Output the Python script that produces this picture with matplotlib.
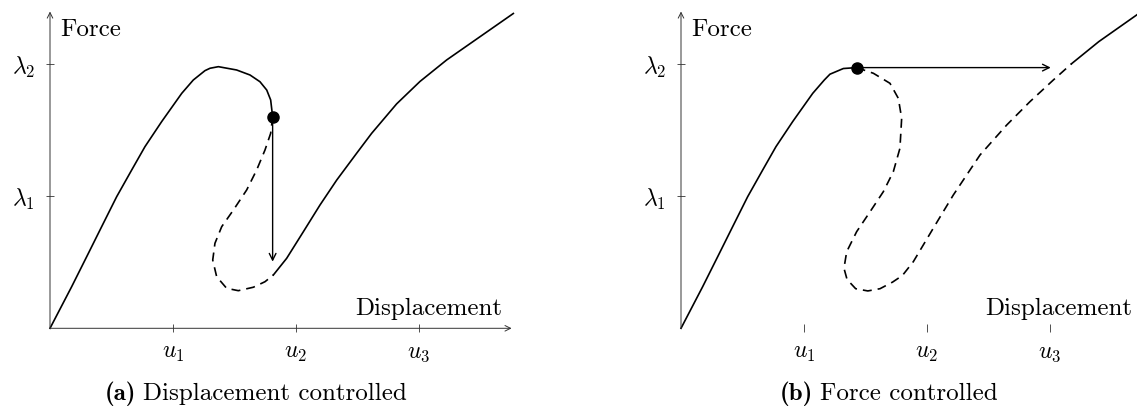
import matplotlib
matplotlib.use("Agg")
import matplotlib.pyplot as plt

plt.rcParams['mathtext.fontset'] = 'cm'

# x in units of u (u1=1, u2=2, u3=3), y in units of lambda (lambda1=1, lambda2=2)
xticks = [1, 2, 3]
xlabels = [r'$u_1$', r'$u_2$', r'$u_3$']
yticks = [1, 2]
ylabels = [r'$\lambda_1$', r'$\lambda_2$']

# (a) displacement controlled
a_up_x = [0, 0.176, 0.312, 0.420, 0.542, 0.664, 0.772, 0.908, 1.071, 1.165, 1.260, 1.301,
          1.369, 1.517, 1.626, 1.707, 1.762, 1.794, 1.810]
a_up_y = [0, 0.315, 0.568, 0.770, 0.997, 1.199, 1.376, 1.566, 1.780, 1.881, 1.952, 1.970,
          1.982, 1.957, 1.919, 1.868, 1.805, 1.730, 1.603]
a_dash_x = [1.810, 1.794, 1.748, 1.680, 1.599, 1.491, 1.396, 1.341, 1.323, 1.355, 1.436,
            1.531, 1.653, 1.748, 1.816]
a_dash_y = [1.603, 1.477, 1.351, 1.199, 1.048, 0.896, 0.770, 0.644, 0.517, 0.391, 0.303,
            0.285, 0.311, 0.353, 0.404]
a_low_x = [1.816, 1.924, 2.060, 2.195, 2.331, 2.493, 2.615, 2.818, 3.008, 3.225, 3.496, 3.767]
a_low_y = [0.404, 0.530, 0.732, 0.934, 1.123, 1.326, 1.477, 1.700, 1.870, 2.033, 2.209, 2.385]
a_point = (1.810, 1.603)
a_jump_end = (1.810, 0.505)

# (b) force controlled
b_up_x = [0, 0.176, 0.312, 0.420, 0.542, 0.664, 0.772, 0.908, 1.071, 1.165, 1.211, 1.320, 1.428]
b_up_y = [0, 0.315, 0.568, 0.770, 0.997, 1.199, 1.376, 1.566, 1.780, 1.881, 1.925, 1.968, 1.975]
b_dash_x = [1.428, 1.564, 1.699, 1.767, 1.794, 1.780, 1.726, 1.645, 1.537, 1.428, 1.347, 1.325,
            1.350, 1.420, 1.519, 1.618, 1.720, 1.800, 1.889, 2.051, 2.214, 2.431, 2.648, 2.837,
            3.027, 3.176]
b_dash_y = [1.975, 1.932, 1.856, 1.742, 1.591, 1.364, 1.186, 1.035, 0.883, 0.732, 0.580, 0.455,
            0.370, 0.300, 0.283, 0.300, 0.350, 0.400, 0.505, 0.758, 1.010, 1.313, 1.540, 1.717,
            1.881, 2.005]
b_top_x = [3.176, 3.397, 3.705, 3.80]
b_top_y = [2.005, 2.172, 2.374, 2.44]
b_point = (1.428, 1.975)
b_jump_end = (3.006, 1.975)

W, H = 1137, 413
SX, SY = 123.0, 132.0   # pixels per unit
OY = 84.7               # origin height from the bottom, px

fig = plt.figure(figsize=(W / 100, H / 100), dpi=100)


def make_ax(ox, xlim, ylim):
    left = ox + xlim[0] * SX
    bottom = OY + ylim[0] * SY
    ax = fig.add_axes([left / W, bottom / H, (xlim[1] - xlim[0]) * SX / W,
                       (ylim[1] - ylim[0]) * SY / H])
    ax.set_xlim(xlim)
    ax.set_ylim(ylim)
    ax.patch.set_visible(False)
    for s in ['top', 'right']:
        ax.spines[s].set_visible(False)
    for s in ['left', 'bottom']:
        ax.spines[s].set_position(('data', 0))
        ax.spines[s].set_visible(False)
    ax.set_xticks(xticks, xlabels)
    ax.set_yticks(yticks, ylabels)
    ax.tick_params(direction='inout', length=5.5, width=0.6, labelsize=17, color='#333333')
    ax.tick_params(axis='x', pad=6)
    ax.tick_params(axis='y', pad=8)
    return ax


def draw_axes(ax, xend, yend):
    arr = dict(arrowstyle='->', lw=0.7, color='#333333', shrinkA=0, shrinkB=0,
               mutation_scale=10)
    ax.annotate('', xy=(xend, 0), xytext=(0, 0), arrowprops=arr)
    ax.annotate('', xy=(0, yend), xytext=(0, 0), arrowprops=arr)


lw = 1.2
dash = (5.4, 3.6)
jump = dict(arrowstyle='->', lw=1.0, color='black', shrinkA=0, shrinkB=0, mutation_scale=12)

# panel (a)
ax1 = make_ax(50, (-0.4, 3.85), (-0.64, 2.48))
draw_axes(ax1, 3.753, 2.40)
ax1.plot(a_up_x, a_up_y, color='black', lw=lw)
ax1.plot(a_dash_x, a_dash_y, color='black', lw=lw, dashes=dash)
ax1.plot(a_low_x, a_low_y, color='black', lw=lw, clip_on=False)
ax1.annotate('', xy=a_jump_end, xytext=a_point, arrowprops=jump)
ax1.plot(*a_point, 'o', color='black', ms=8)
ax1.text(0.08, 2.26, 'Force', family='cmr10', fontsize=18, ha='left', va='center')
ax1.text(3.68, 0.15, 'Displacement', family='cmr10', fontsize=18, ha='right', va='center')

# panel (b)
ax2 = make_ax(681, (-0.4, 3.71), (-0.64, 2.48))
draw_axes(ax2, 3.80, 2.40)
ax2.plot(b_up_x, b_up_y, color='black', lw=lw)
ax2.plot(b_dash_x, b_dash_y, color='black', lw=lw, dashes=dash)
ax2.plot(b_top_x, b_top_y, color='black', lw=lw)
ax2.annotate('', xy=b_jump_end, xytext=b_point, arrowprops=jump)
ax2.plot(*b_point, 'o', color='black', ms=8)
ax2.text(0.08, 2.26, 'Force', family='cmr10', fontsize=18, ha='left', va='center')
ax2.text(3.67, 0.15, 'Displacement', family='cmr10', fontsize=18, ha='right', va='center')

# captions: bold tag followed by the description
captions = [(105, '(a)', 'Displacement controlled'), (780, '(b)', 'Force controlled')]
tags = []
for x0, tag, desc in captions:
    tags.append(fig.text(x0 / W, 13 / H, tag, family='cmb10', fontsize=18,
                         ha='left', va='baseline'))
fig.canvas.draw()
for t, (x0, tag, desc) in zip(tags, captions):
    bb = t.get_window_extent()
    fig.text((bb.x1 + 7) / W, 13 / H, desc, family='cmr10', fontsize=18,
             ha='left', va='baseline')

fig.savefig('out.png', dpi=100)
